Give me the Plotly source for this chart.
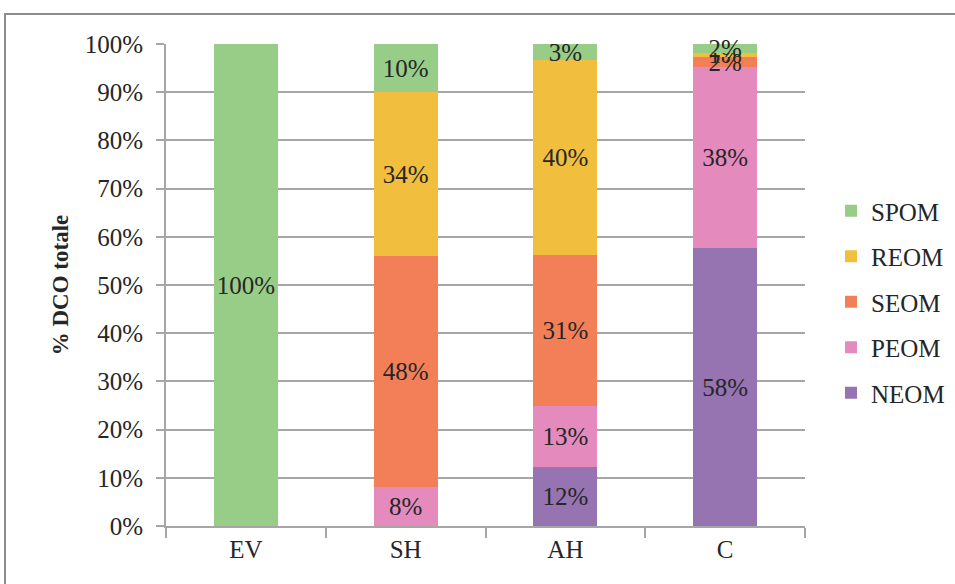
import plotly.graph_objects as go

categories = ["EV", "SH", "AH", "C"]
series_names = ["NEOM", "PEOM", "SEOM", "REOM", "SPOM"]
neom = [0, 0, 12.2, 57.6]
peom = [0, 8.0, 12.8, 37.6]
seom = [0, 48.0, 31.2, 2.1]
reom = [0, 34.0, 40.4, 0.9]
spom = [100, 10.0, 3.4, 1.8]
colors = ["#9673B1", "#E48ABD", "#F37F59", "#F2BE3E", "#98CD87"]
ytick_vals = [0, 10, 20, 30, 40, 50, 60, 70, 80, 90, 100]
ytick_text = [f"{v}%" for v in ytick_vals]

series = [neom, peom, seom, reom, spom]
FONT = "Liberation Serif, Times New Roman, serif"
GRID = "#A6A6A6"
FS = 25

fig = go.Figure()
for i, (name, vals, col) in enumerate(zip(series_names, series, colors)):
    text = [f"{round(v):.0f}%" if v > 0 else "" for v in vals]
    fig.add_trace(go.Bar(
        x=categories, y=vals, name=name, marker_color=col,
        marker_line_width=0, text=text, textposition="inside",
        insidetextanchor="middle", constraintext="none", textangle=0,
        cliponaxis=False,
        textfont=dict(family=FONT, size=FS, color="#262626"),
        legendgroup=name, legendrank=len(series_names) - i,
    ))

W, H = 955, 584
L, R, T, B = 166, 150, 44, 58
pw, ph = W - L - R, H - T - B

def px(x):
    return (x - L) / pw

def py(y):
    return (H - B - y) / ph

fig.update_layout(
    width=W, height=H, barmode="stack", bargap=0.6,
    margin=dict(l=L, r=R, t=T, b=B, autoexpand=False),
    paper_bgcolor="white", plot_bgcolor="white",
    font=dict(family=FONT, size=FS, color="#262626"),
    legend=dict(x=px(831), y=py(302), xanchor="left", yanchor="middle",
                traceorder="grouped", tracegroupgap=10,
                font=dict(size=FS), itemwidth=30),
    shapes=[dict(type="rect", xref="paper", yref="paper",
                 x0=px(5), x1=px(975), y0=py(600), y1=py(14),
                 line=dict(color="#8C8C8C", width=2), fillcolor="rgba(0,0,0,0)",
                 layer="below")],
)
fig.update_xaxes(showline=True, linecolor=GRID, linewidth=2, ticks="outside",
                 tickson="boundaries", ticklen=10, tickcolor=GRID, tickwidth=2,
                 tickfont=dict(size=FS), showgrid=False)
fig.update_yaxes(range=[0, 100], tickvals=ytick_vals, ticktext=ytick_text,
                 showline=True, linecolor=GRID, linewidth=2, ticks="outside",
                 ticklen=8, tickcolor=GRID, tickwidth=2, ticklabelstandoff=8,
                 showgrid=True, gridcolor=GRID, gridwidth=2,
                 tickfont=dict(size=FS),
                 title=dict(text="<b>% DCO totale</b>", font=dict(size=23), standoff=10))

fig.write_html("out.html", config={"displayModeBar": False},
               post_script="document.body.style.margin='0';")
